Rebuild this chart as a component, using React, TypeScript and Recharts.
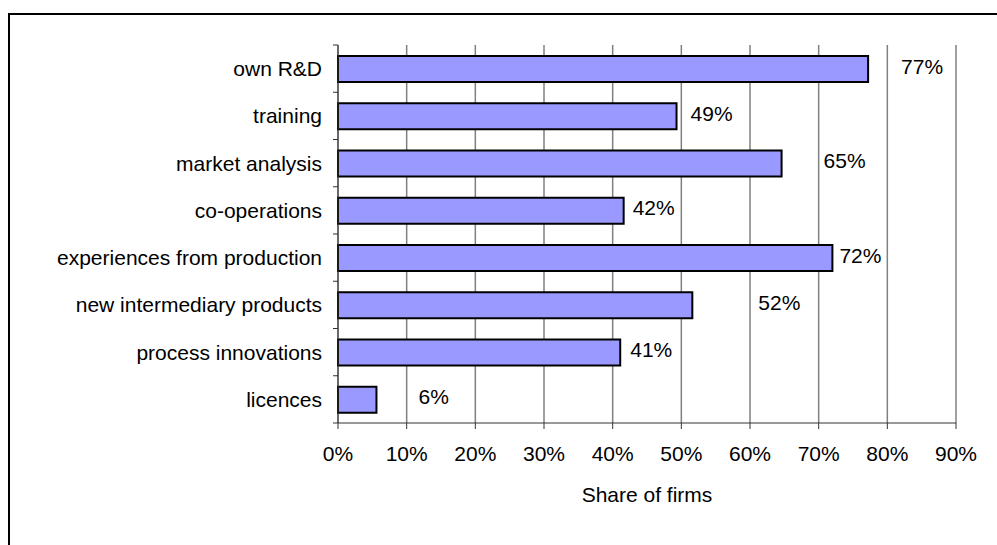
import { Bar, BarChart, CartesianGrid, Label, LabelList, XAxis, YAxis } from "recharts";

const categories = [
  "own R&D",
  "training",
  "market analysis",
  "co-operations",
  "experiences from production",
  "new intermediary products",
  "process innovations",
  "licences",
];

const shares = [77.2, 49.3, 64.6, 41.6, 72.0, 51.6, 41.1, 5.6];

const xTicks = [0, 10, 20, 30, 40, 50, 60, 70, 80, 90];

const data = categories.map((name, i) => ({ name, value: shares[i] }));

const FONT = '"Liberation Sans", Arial, sans-serif';
const FONT_SIZE = 21;
const PLOT_TOP = 45;
const PLOT_BOTTOM = 423;
const BAND = (PLOT_BOTTOM - PLOT_TOP) / categories.length;

// Excel put the data labels at slightly uneven distances from the bar ends
const labelDx = [33, 14, 42, 9, 7, 66, 10, 42];

const CategoryTick = (props: any) => {
  const { x, y, payload, index } = props;
  return (
    <g>
      <text
        x={x - 16}
        y={y}
        textAnchor="end"
        dominantBaseline="central"
        fontFamily={FONT}
        fontSize={FONT_SIZE}
        fill="#000"
      >
        {payload.value}
      </text>
      <line x1={x - 5} x2={x} y1={y - BAND / 2} y2={y - BAND / 2} stroke="#333" />
      {index === categories.length - 1 && (
        <line x1={x - 5} x2={x} y1={y + BAND / 2} y2={y + BAND / 2} stroke="#333" />
      )}
    </g>
  );
};

const ValueLabel = (props: any) => {
  const { x, y, width, height, value, index } = props;
  return (
    <text
      x={x + width + labelDx[index]}
      y={y + height / 2 - 3}
      dominantBaseline="central"
      fontFamily={FONT}
      fontSize={FONT_SIZE}
      fill="#000"
    >
      {Math.round(value)}%
    </text>
  );
};

const App = () => {
  return (
    <div
      style={{
        position: "fixed",
        top: 0,
        left: 0,
        width: 997,
        height: 545,
        overflow: "hidden",
        background: "#fff",
      }}
    >
      <div
        style={{
          position: "absolute",
          left: 8,
          top: 13,
          width: 1000,
          height: 600,
          borderLeft: "2px solid #000",
          borderTop: "2px solid #000",
        }}
      />
      <div style={{ position: "absolute", left: 0, top: 0 }}>
        <BarChart
          width={997}
          height={545}
          data={data}
          layout="vertical"
          margin={{ top: PLOT_TOP, right: 41, bottom: 0, left: 0 }}
        >
          <CartesianGrid horizontal={false} stroke="#808080" strokeWidth={1.5} />
          <XAxis
            type="number"
            domain={[0, 90]}
            ticks={xTicks}
            tickFormatter={(v) => `${v}%`}
            height={122}
            stroke="#333"
            tickSize={6}
            tickMargin={17}
            tick={{ fill: "#000", fontSize: FONT_SIZE, fontFamily: FONT }}
          >
            <Label
              value="Share of firms"
              position="insideBottom"
              offset={43}
              style={{ fill: "#000", fontSize: FONT_SIZE, fontFamily: FONT }}
            />
          </XAxis>
          <XAxis
            xAxisId="top"
            orientation="top"
            type="number"
            domain={[0, 90]}
            height={0}
            tick={false}
            tickLine={false}
            stroke="#808080"
            strokeWidth={1.5}
          />
          <YAxis
            type="category"
            dataKey="name"
            width={338}
            stroke="#333"
            tickLine={false}
            tickSize={0}
            tickMargin={0}
            interval={0}
            tick={<CategoryTick />}
          />
          <Bar
            dataKey="value"
            fill="#9999FF"
            stroke="#000"
            strokeWidth={2}
            barSize={26}
            isAnimationActive={false}
          >
            <LabelList dataKey="value" content={<ValueLabel />} />
          </Bar>
        </BarChart>
      </div>
    </div>
  );
};

export default App;
